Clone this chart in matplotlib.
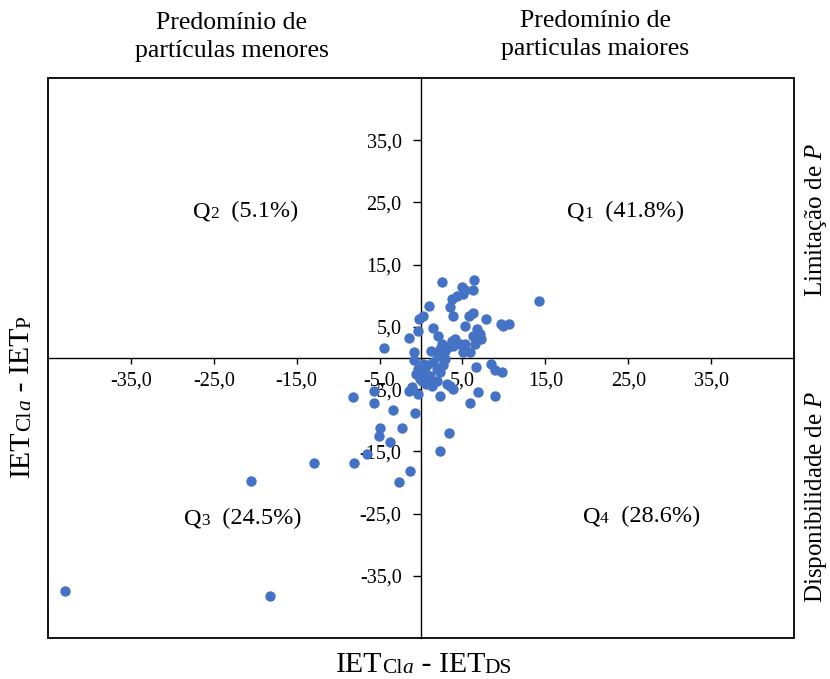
import matplotlib
matplotlib.use("Agg")
import matplotlib.pyplot as plt
from matplotlib.patches import Rectangle
from matplotlib.ticker import FuncFormatter

plt.rcParams["font.family"] = ["Liberation Serif", "DejaVu Serif"]
plt.rcParams["mathtext.fontset"] = "custom"
plt.rcParams["mathtext.rm"] = "Liberation Serif"
plt.rcParams["mathtext.it"] = "Liberation Serif:italic"

# ---- DATA (IETCla - IETDS, IETCla - IETP) ----
q1_x = [2.5, 6.4, 4.9, 5.3, 5.1, 6.3, 4.3, 3.7, 3.5, 1.0, 3.9, 0.2, 5.8, 6.3,
        7.8, 9.7, 10.6, 9.9, 1.5, 2.1, 5.3, 6.7, 7.1, 6.3, 7.3, 6.5, 4.1, 4.7,
        5.3, 3.9, 3.3, 2.5, 2.3, 2.9, 2.1, 2.7, 5.9, 14.2, 3.7, 5.1, 1.2]
q1_y = [12.2, 12.5, 11.4, 10.9, 10.3, 10.9, 10.0, 9.5, 8.2, 8.3, 6.7, 6.7, 6.7, 7.3,
        6.3, 5.5, 5.5, 5.2, 4.8, 3.5, 5.2, 4.7, 3.9, 3.6, 3.1, 2.3, 3.1, 2.3,
        2.3, 2.0, 1.7, 2.3, 1.5, 1.2, 0.4, 0.6, 0.9, 9.1, 2.8, 0.9, 1.2]
q2_x = [-4.5, -1.4, -0.9, -0.2, -0.3]
q2_y = [1.6, 3.2, 1.0, 6.2, 4.4]
q3_x = [-0.9, -8.2, -5.7, -5.7, -3.4, -1.4, -0.4, -0.7, -5.0, -5.1, -2.3, -3.7,
        -6.5, -8.1, -1.3, -2.7, -12.9, -20.5, -42.9, -18.2, -0.1, -0.4, -0.6, -1.1]
q3_y = [-0.4, -6.3, -5.3, -7.3, -8.3, -5.3, -5.8, -8.9, -11.2, -12.5, -11.2, -13.5,
        -15.5, -16.8, -18.2, -19.9, -16.8, -19.7, -37.4, -38.2, -3.4, -1.8, -2.6, -4.6]
q4_x = [1.5, 0.7, 0.5, 0.1, 1.1, 1.9, 2.3, 0.9, 1.3, 0.1, 2.9, 2.7, 6.6, 8.5,
        8.9, 9.8, 2.3, 3.5, 6.9, 8.9, 5.9, 3.4, 2.3, 0.6, 1.9, 3.1, 3.9, 0.3]
q4_y = [-0.7, -1.2, -2.3, -2.9, -2.9, -1.8, -2.3, -3.9, -4.5, -3.7, -0.2, -1.2, -1.5, -1.0,
        -2.0, -2.2, -6.1, -4.5, -5.5, -6.1, -7.2, -12.0, -15.0, -4.2, -3.7, -4.2, -5.0, -1.0]

ticks = [-35, -25, -15, -5, 5, 15, 25, 35]
quad_labels = [("Q", "1", "  (41.8%)"), ("Q", "2", "  (5.1%)"),
               ("Q", "3", "  (24.5%)"), ("Q", "4", "  (28.6%)")]

# ---- PLOT ----
fig = plt.figure(figsize=(8.3, 6.79), dpi=100)
ax = fig.add_axes([0.0578, 0.0604, 0.8988, 0.8247])

xs = q1_x + q2_x + q3_x + q4_x
ys = q1_y + q2_y + q3_y + q4_y
ax.scatter(xs, ys, s=56, color="#4472C4", zorder=3, linewidths=0)

ax.set_xlim(-45, 45)
ax.set_ylim(-45, 45)
ax.spines["left"].set_position("zero")
ax.spines["bottom"].set_position("zero")
ax.spines["top"].set_visible(False)
ax.spines["right"].set_visible(False)
for s in ("left", "bottom"):
  ax.spines[s].set_linewidth(1.0)
ax.add_patch(Rectangle((0, 0), 1, 1, transform=ax.transAxes, fill=False,
                       lw=1.3, ec="black", clip_on=False, zorder=4))

fmt = FuncFormatter(lambda v, p: f"{v:.1f}".replace(".", ","))
ax.set_xticks(ticks)
ax.set_yticks(ticks)
ax.xaxis.set_major_formatter(fmt)
ax.yaxis.set_major_formatter(fmt)
ax.tick_params(axis="x", direction="out", length=4, width=1, pad=6, labelsize=14.5)
ax.tick_params(axis="y", direction="out", length=6, width=1, pad=8, labelsize=14.5)


def chain(first, pieces, rot=False):
  prev = first
  for txt, size, style in pieces:
    if rot:
      prev = ax.annotate(txt, xy=(1, 1), xycoords=prev, ha="right", va="bottom",
                         fontsize=size, style=style, rotation=90,
                         annotation_clip=False)
    else:
      prev = ax.annotate(txt, xy=(1, 0), xycoords=prev, ha="left", va="bottom",
                         fontsize=size, style=style, annotation_clip=False)
  return prev


# quadrant labels
quad_pos = [(17.6, 23.5), (-27.5, 23.5), (-28.6, -25.8), (19.5, -25.5)]
for (q, n, pct), (qx, qy) in zip(quad_labels, quad_pos):
  t = ax.text(qx, qy, q, fontsize=17.5, ha="left", va="center")
  chain(t, [(n, 12.5, "normal"), (pct, 17.5, "normal")])

# axis labels
t = fig.text(336 / 830, 0.0206, "IET", fontsize=21.5, ha="left", va="center")
chain(t, [("Cl", 15.5, "normal"), ("a", 15.5, "italic"), (" - IET", 21.5, "normal"),
          ("DS", 15.5, "normal")])
t = fig.text(22 / 830, 0.2975, "IET", fontsize=21.5, ha="center", va="bottom",
             rotation=90)
chain(t, [("Cl", 15.5, "normal"), ("a", 15.5, "italic"), (" - IET", 21.5, "normal"),
          ("P", 15.5, "normal")], rot=True)

# side titles
fig.text(0.2795, 0.9455, "Predomínio de\npartículas menores", fontsize=18.5,
         ha="center", va="center", linespacing=1.35)
fig.text(0.717, 0.948, "Predomínio de\nparticulas maiores", fontsize=18.5,
         ha="center", va="center", linespacing=1.35)
fig.text(0.983, 0.676, r"Limitação de $\mathit{P}$", fontsize=18,
         ha="center", va="center", rotation=90)
fig.text(0.983, 0.268, r"Disponibilidade de $\mathit{P}$", fontsize=18,
         ha="center", va="center", rotation=90)

fig.savefig("out.png", dpi=100)
